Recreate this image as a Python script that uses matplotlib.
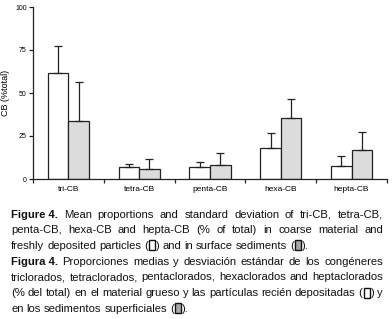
import numpy as np
import matplotlib
matplotlib.use("Agg")
import matplotlib.pyplot as plt
from matplotlib.patches import Rectangle

# data (% of total)
groups = ["tri-CB", "tetra-CB", "penta-CB", "hexa-CB", "hepta-CB"]
coarse_mean = [61.6, 7.2, 6.8, 17.8, 7.4]
coarse_sd = [15.5, 1.3, 2.9, 8.8, 5.8]
sediment_mean = [33.5, 5.6, 8.0, 35.3, 16.7]
sediment_sd = [22.9, 6.2, 6.9, 11.0, 10.4]
yticks = [0, 25, 50, 75, 100]

plt.rcParams["font.family"] = ["Liberation Sans", "DejaVu Sans"]

fig = plt.figure(figsize=(3.92, 3.19), dpi=100)
ax = fig.add_axes([33 / 392, 1 - 179 / 319, (387 - 33) / 392, (179 - 7) / 319])

x = np.arange(len(groups))
w = 0.29
ek = dict(ecolor="#222222", elinewidth=0.9, capsize=3.2, capthick=0.9)
ax.bar(x - w / 2, coarse_mean, w, color="white", edgecolor="#222222", linewidth=0.9,
       yerr=[np.zeros(len(x)), coarse_sd], error_kw=ek)
ax.bar(x + w / 2, sediment_mean, w, color="#dcdcdc", edgecolor="#222222", linewidth=0.9,
       yerr=[np.zeros(len(x)), sediment_sd], error_kw=ek)

ax.set_xlim(-0.5, len(groups) - 0.5)
ax.set_ylim(0, 100)
ax.set_yticks(yticks)
ax.tick_params(axis="y", labelsize=5, length=3, width=0.9, pad=1.5, color="#222222")
ax.set_xticks(x)
ax.set_xticklabels(groups, fontsize=6)
ax.set_xticks(np.arange(len(groups) + 1) - 0.5, minor=True)
ax.tick_params(axis="x", which="major", length=0, pad=5)
ax.tick_params(axis="x", which="minor", length=3, width=0.9, color="#222222")
for s in ["top", "right"]:
    ax.spines[s].set_visible(False)
for s in ["left", "bottom"]:
    ax.spines[s].set_linewidth(0.9)
    ax.spines[s].set_color("#222222")
ax.set_ylabel("CB (%total)", fontsize=6.5, labelpad=4)

# caption, justified by hand
GREY_BOX = "#a8a8a8"
cap_lines = [
    ([[("Figure 4.", "bold")], "Mean", "proportions", "and", "standard", "deviation", "of", "tri-CB,", "tetra-CB,"], True),
    (["penta-CB,", "hexa-CB", "and", "hepta-CB", "(%", "of", "total)", "in", "coarse", "material", "and"], True),
    (["freshly", "deposited", "particles", [("(", "n"), ("box", "white"), (")", "n")], "and", "in", "surface",
      "sediments", [("(", "n"), ("box", GREY_BOX), (").", "n")]], False),
    ([[("Figura 4.", "bold")], "Proporciones", "medias", "y", "desviación", "estándar", "de", "los", "congéneres"], True),
    (["triclorados,", "tetraclorados,", "pentaclorados,", "hexaclorados", "and", "heptaclorados"], True),
    (["(%", "del", "total)", "en", "el", "material", "grueso", "y", "las", "partículas", "recién", "depositadas",
      [("(", "n"), ("box", "white"), (")", "n")], "y"], True),
    (["en", "los", "sedimentos", "superficiales", [("(", "n"), ("box", GREY_BOX), (").", "n")]], False),
]
x0, x1 = 11, 383
base0, step = 217.5, 15.7
fsize = 8.1
renderer = fig.canvas.get_renderer()
box_w, box_h = 6, 10

for i, (words, justify) in enumerate(cap_lines):
    yb = 319 - (base0 + i * step)
    items = []
    for wd in words:
        parts = [(wd, "n")] if isinstance(wd, str) else wd
        pieces = []
        width = 0
        for txt, kind in parts:
            if txt == "box":
                pieces.append(("box", kind, width + 1))
                width += box_w + 2
            else:
                t = fig.text(0, yb / 319, txt, fontsize=fsize, va="baseline",
                             weight="bold" if kind == "bold" else "normal", color="#111111")
                tw = t.get_window_extent(renderer).width
                pieces.append(("txt", t, width))
                width += tw
        items.append((pieces, width))
    total = sum(wd for _, wd in items)
    if justify:
        gap = (x1 - x0 - total) / (len(items) - 1)
    else:
        gap = 3.0
    cx = x0
    for pieces, width in items:
        for kind, obj, off in pieces:
            if kind == "box":
                fig.patches.append(Rectangle(((cx + off) / 392, (yb - 1.5) / 319), box_w / 392, box_h / 319,
                                             transform=fig.transFigure, facecolor=obj,
                                             edgecolor="#111111", linewidth=1.0))
            else:
                obj.set_x((cx + off) / 392)
        cx += width + gap

fig.savefig("out.png", dpi=100)
